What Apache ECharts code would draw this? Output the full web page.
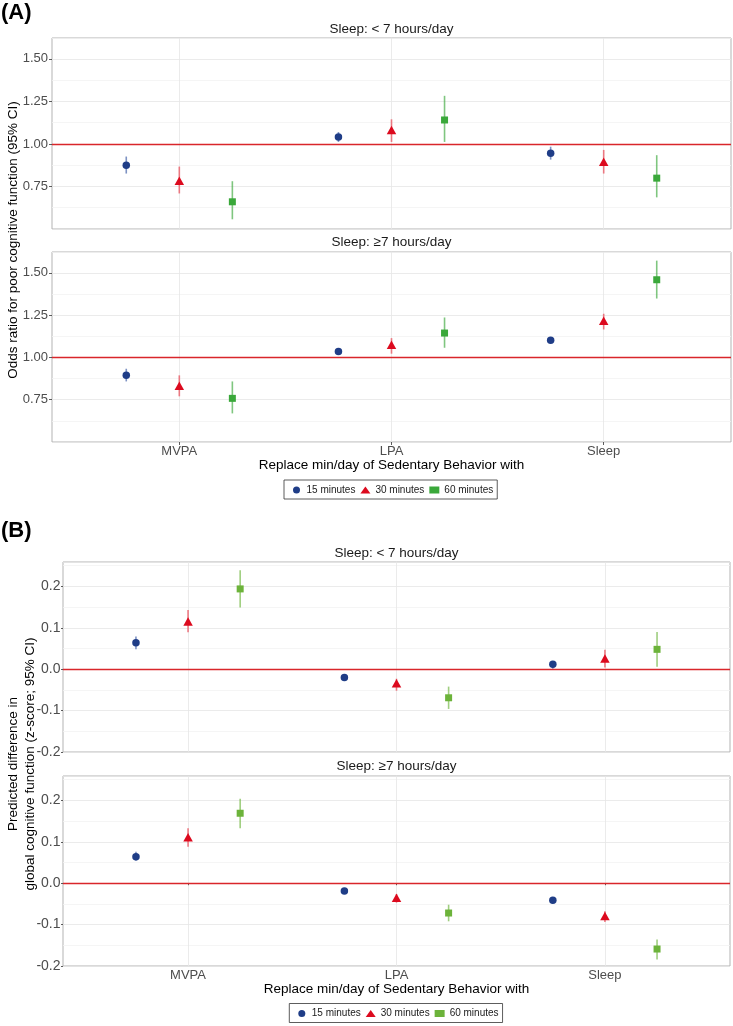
<!DOCTYPE html>
<html><head><meta charset="utf-8">
<script src="https://cdn.jsdelivr.net/npm/echarts@6/dist/echarts.min.js"></script>
<style>html,body{margin:0;padding:0;background:#fff}#c{width:733px;height:1026px}</style>
</head><body><div id="c"></div>
<script>
// ---------- data ----------
const categories = ['MVPA', 'LPA', 'Sleep'];
const durations = ['15 minutes', '30 minutes', '60 minutes'];
const stripLabels = ['Sleep: < 7 hours/day', 'Sleep: ≥7 hours/day'];
const yTicksA = [0.75, 1.00, 1.25, 1.50];
const yTicksB = [-0.2, -0.1, 0.0, 0.1, 0.2];
// each entry: [estimate, lower 95% CI, upper 95% CI] for MVPA, LPA, Sleep
// (A) odds ratio, sleep < 7 h/day
const orShort15 = [[0.875, 0.826, 0.926], [1.041, 1.012, 1.070], [0.945, 0.908, 0.984]];
const orShort30 = [[0.783, 0.709, 0.867], [1.082, 1.012, 1.145], [0.896, 0.826, 0.965]];
const orShort60 = [[0.660, 0.557, 0.781], [1.141, 1.012, 1.283], [0.799, 0.686, 0.934]];
// (A) odds ratio, sleep >= 7 h/day
const orLong15 = [[0.894, 0.858, 0.933], [1.035, 1.022, 1.049], [1.102, 1.090, 1.115]];
const orLong30 = [[0.833, 0.770, 0.894], [1.075, 1.022, 1.114], [1.217, 1.165, 1.258]];
const orLong60 = [[0.758, 0.669, 0.858], [1.144, 1.057, 1.236], [1.459, 1.348, 1.572]];
// (B) predicted difference (z-score), sleep < 7 h/day
const zShort15 = [[0.064, 0.048, 0.079], [-0.020, -0.026, -0.014], [0.012, 0.001, 0.019]];
const zShort30 = [[0.115, 0.089, 0.143], [-0.034, -0.052, -0.023], [0.026, 0.004, 0.047]];
const zShort60 = [[0.194, 0.149, 0.239], [-0.069, -0.096, -0.042], [0.048, 0.006, 0.090]];
// (B) predicted difference (z-score), sleep >= 7 h/day
const zLong15 = [[0.064, 0.054, 0.076], [-0.019, -0.024, -0.014], [-0.041, -0.046, -0.036]];
const zLong30 = [[0.111, 0.088, 0.133], [-0.035, -0.047, -0.026], [-0.079, -0.094, -0.068]];
const zLong60 = [[0.169, 0.133, 0.204], [-0.072, -0.092, -0.052], [-0.159, -0.184, -0.136]];

// ---------- style ----------
const FONT = 'Liberation Sans, Arial, Helvetica, sans-serif';
const NAVY = '#1f3d87', RED = '#dc0a1e', GREEN_A = '#3aa83a', GREEN_B = '#6cb33a';
const LINE_NAVY = '#6f86bd', LINE_RED = '#ea6b76';
const REF = '#d9262b';
const GRID_MAJOR = '#e6e6e6', GRID_MINOR = '#f3f3f3';
const dodge = [-0.25, 0, 0.25];
const symbols = ['circle', 'triangle', 'rect'];
const symbolSizes = [7.5, [9.5, 8.5], 7];

const grids = [
  {left: 52, top: 38, width: 679, height: 191},
  {left: 52, top: 252, width: 679, height: 190},
  {left: 63, top: 562, width: 667, height: 190},
  {left: 63, top: 776, width: 667, height: 190}
];
const panels = [
  {sets: [orShort15, orShort30, orShort60], ticks: yTicksA, min: 0.5, max: 1.623, step: 0.125, ref: 1, dec: 2, green: GREEN_A, lsize: 13, lmargin: 4, tlen: 3, bottom: false},
  {sets: [orLong15, orLong30, orLong60], ticks: yTicksA, min: 0.5, max: 1.623, step: 0.125, ref: 1, dec: 2, green: GREEN_A, lsize: 13, lmargin: 4, tlen: 3, bottom: true},
  {sets: [zShort15, zShort30, zShort60], ticks: yTicksB, min: -0.2, max: 0.259, step: 0.05, ref: 0, dec: 1, green: GREEN_B, lsize: 14, lmargin: 2.5, tlen: 2, bottom: false},
  {sets: [zLong15, zLong30, zLong60], ticks: yTicksB, min: -0.2, max: 0.259, step: 0.05, ref: 0, dec: 1, green: GREEN_B, lsize: 14, lmargin: 2.5, tlen: 2, bottom: true}
];

const grid = grids.map(g => Object.assign({show: true, borderColor: '#b3b3b3', borderWidth: 1, backgroundColor: '#fff'}, g));
const xAxis = [], yAxis = [], series = [];

panels.forEach((p, g) => {
  const isTick = v => p.ticks.some(t => Math.abs(t - v) < 1e-6);
  xAxis.push({
    type: 'value', gridIndex: g, min: 0.4, max: 3.6, position: 'bottom',
    axisLine: {show: false},
    axisTick: {show: p.bottom, customValues: categories.map((c, i) => i + 1), length: p.tlen, lineStyle: {color: '#333', width: 0.8}},
    axisLabel: {show: p.bottom, customValues: categories.map((c, i) => i + 1), formatter: v => categories[Math.round(v) - 1] || '',
      fontSize: 13, color: '#4d4d4d', fontFamily: FONT, margin: 3},
    splitLine: {show: true, lineStyle: {color: GRID_MAJOR, width: 0.8}}
  });
  yAxis.push({
    type: 'value', gridIndex: g, min: p.min, max: p.max, interval: p.step, position: 'left',
    axisLine: {show: false}, axisTick: {show: false},
    axisLabel: {formatter: v => isTick(v) ? v.toFixed(p.dec) : '', fontSize: p.lsize, color: '#4d4d4d', fontFamily: FONT, margin: p.lmargin},
    splitLine: {show: true, lineStyle: {color: [GRID_MAJOR, GRID_MINOR], width: 0.8}}
  });
  yAxis.push({
    type: 'value', gridIndex: g, min: p.min, max: p.max, position: 'left', offset: 0,
    axisLine: {show: false}, axisLabel: {show: false}, splitLine: {show: false},
    axisTick: {show: true, customValues: p.ticks, length: p.tlen, lineStyle: {color: '#333', width: 0.8}}
  });
  const colors = [NAVY, RED, p.green];
  const lineColors = [LINE_NAVY, LINE_RED, p.green];
  p.sets.forEach((set, d) => {
    const lc = lineColors[d];
    series.push({
      type: 'custom', name: 'ci' + g + d, xAxisIndex: g, yAxisIndex: 2 * g, z: 2, silent: true,
      data: set.map((v, i) => [i + 1 + dodge[d], v[1], v[2]]),
      renderItem: (params, api) => {
        const a = api.coord([api.value(0), api.value(1)]);
        const b = api.coord([api.value(0), api.value(2)]);
        return {type: 'line', shape: {x1: a[0], y1: a[1], x2: b[0], y2: b[1]},
          style: {stroke: lc, lineWidth: 1.6, opacity: d === 2 ? 0.65 : 0.9}};
      }
    });
  });
  p.sets.forEach((set, d) => {
    const s = {
      type: 'scatter', name: durations[d], xAxisIndex: g, yAxisIndex: 2 * g, z: 3,
      symbol: symbols[d], symbolSize: symbolSizes[d],
      itemStyle: {color: colors[d], opacity: 1},
      data: set.map((v, i) => [i + 1 + dodge[d], v[0]])
    };
    if (d === 0) {
      s.markLine = {silent: true, symbol: 'none', label: {show: false}, animation: false,
        lineStyle: {color: REF, width: 1.3, type: 'solid'}, data: [{yAxis: p.ref}]};
    }
    series.push(s);
  });
});

function legendFor(top, left, green) {
  return {
    top: top, left: left, orient: 'horizontal',
    borderColor: '#333', borderWidth: 0.8, padding: [4, 4, 3, 9],
    itemWidth: 10, itemHeight: 7, itemGap: 5,
    textStyle: {fontSize: 10, fontFamily: FONT, color: '#1a1a1a', lineHeight: 12},
    data: [
      {name: durations[0], icon: 'circle', itemStyle: {color: NAVY}},
      {name: durations[1], icon: 'triangle', itemStyle: {color: RED}},
      {name: durations[2], icon: 'rect', itemStyle: {color: green}}
    ],
    selectedMode: false
  };
}

function txt(x, y, text, opts) {
  opts = opts || {};
  return {
    type: 'text', x: x, y: y, rotation: opts.rot || 0, silent: true,
    style: {text: text, fontSize: opts.size || 13.5, fontWeight: opts.weight || 'normal', fontFamily: FONT,
      fill: opts.fill || '#1a1a1a', textAlign: opts.align || 'center', textVerticalAlign: 'middle',
      lineHeight: opts.lh || 16}
  };
}

const graphic = [
  txt(1, 12.5, '(A)', {size: 22, weight: 'bold', align: 'left', fill: '#000'}),
  txt(1, 531, '(B)', {size: 22, weight: 'bold', align: 'left', fill: '#000'}),
  txt(391.5, 29.3, stripLabels[0]),
  txt(391.5, 242.7, stripLabels[1]),
  txt(396.5, 553.3, stripLabels[0]),
  txt(396.5, 766.7, stripLabels[1]),
  txt(391.5, 465.7, 'Replace min/day of Sedentary Behavior with', {fill: '#000'}),
  txt(396.5, 989.3, 'Replace min/day of Sedentary Behavior with', {fill: '#000'}),
  txt(13.3, 240, 'Odds ratio for poor cognitive function (95% CI)', {rot: Math.PI / 2, fill: '#000'}),
  txt(21.5, 764, 'Predicted difference in\nglobal cognitive function (z-score; 95% CI)', {rot: Math.PI / 2, fill: '#000', lh: 16.7})
];

const chart = echarts.init(document.getElementById('c'), null, {renderer: 'canvas'});
chart.setOption({
  animation: false,
  backgroundColor: '#fff',
  grid: grid, xAxis: xAxis, yAxis: yAxis, series: series,
  legend: [legendFor(480, 284, GREEN_A), legendFor(1003.5, 289.3, GREEN_B)],
  graphic: graphic
});
</script></body></html>
